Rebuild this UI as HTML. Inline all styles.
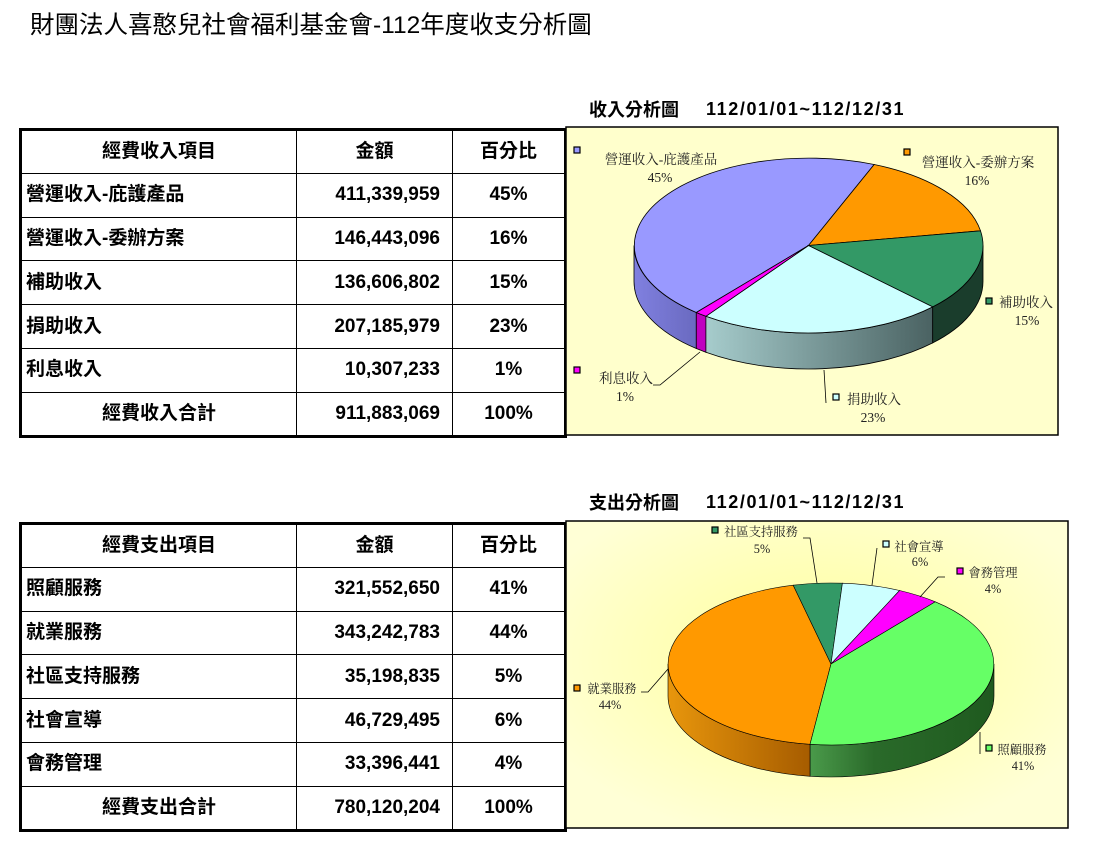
<!DOCTYPE html>
<html><head><meta charset="utf-8">
<style>
body{margin:0;background:#fff;width:1113px;height:853px;position:relative;overflow:hidden;font-family:"Liberation Sans","Noto Sans CJK TC",sans-serif;}
.title{position:absolute;left:30px;top:6px;font-size:24.5px;color:#000;}
.ct{position:absolute;font-size:18px;font-weight:bold;}
table{position:absolute;border-collapse:collapse;border:3px solid #000;font-weight:bold;font-size:19px;}
td{border:1.5px solid #000;height:43.8px;padding:0 4px;box-sizing:border-box;line-height:20px}
td.a{width:276px}td.b{width:156px;text-align:right;padding-right:12px}td.c{width:113px;text-align:center}
tr.h td{text-align:center;padding-right:4px}
tr.t td.a{text-align:center}
svg{position:absolute;left:0;top:0}
</style></head><body>
<div class="title">財團法人喜憨兒社會福利基金會-112年度收支分析圖</div>
<div class="ct" style="left:589px;top:96px">收入分析圖</div>
<div class="ct" style="left:706px;top:99px;letter-spacing:1.6px">112/01/01~112/12/31</div>
<div class="ct" style="left:589px;top:489px">支出分析圖</div>
<div class="ct" style="left:706px;top:492px;letter-spacing:1.6px">112/01/01~112/12/31</div>

<table style="left:19px;top:128px;width:548px">
<tr class="h"><td class="a">經費收入項目</td><td class="b" style="text-align:center">金額</td><td class="c">百分比</td></tr>
<tr><td class="a">營運收入-庇護產品</td><td class="b">411,339,959</td><td class="c">45%</td></tr>
<tr><td class="a">營運收入-委辦方案</td><td class="b">146,443,096</td><td class="c">16%</td></tr>
<tr><td class="a">補助收入</td><td class="b">136,606,802</td><td class="c">15%</td></tr>
<tr><td class="a">捐助收入</td><td class="b">207,185,979</td><td class="c">23%</td></tr>
<tr><td class="a">利息收入</td><td class="b">10,307,233</td><td class="c">1%</td></tr>
<tr class="t"><td class="a">經費收入合計</td><td class="b">911,883,069</td><td class="c">100%</td></tr>
</table>

<table style="left:19px;top:522px;width:548px">
<tr class="h"><td class="a">經費支出項目</td><td class="b" style="text-align:center">金額</td><td class="c">百分比</td></tr>
<tr><td class="a">照顧服務</td><td class="b">321,552,650</td><td class="c">41%</td></tr>
<tr><td class="a">就業服務</td><td class="b">343,242,783</td><td class="c">44%</td></tr>
<tr><td class="a">社區支持服務</td><td class="b">35,198,835</td><td class="c">5%</td></tr>
<tr><td class="a">社會宣導</td><td class="b">46,729,495</td><td class="c">6%</td></tr>
<tr><td class="a">會務管理</td><td class="b">33,396,441</td><td class="c">4%</td></tr>
<tr class="t"><td class="a">經費支出合計</td><td class="b">780,120,204</td><td class="c">100%</td></tr>
</table>

<svg width="1113" height="853" viewBox="0 0 1113 853" style="font-family:'Liberation Serif','Noto Serif CJK SC',serif">
<defs>
<linearGradient id="cs" x1="0" x2="1"><stop offset="0" stop-color="#a6cccc"/><stop offset="1" stop-color="#4a6262"/></linearGradient>
<linearGradient id="ps" x1="0" x2="1"><stop offset="0" stop-color="#8080e0"/><stop offset="1" stop-color="#6a6ac0"/></linearGradient>
<linearGradient id="gs" x1="0" x2="1"><stop offset="0" stop-color="#4a9a4a"/><stop offset="0.35" stop-color="#2a6a2a"/><stop offset="1" stop-color="#1f5a1f"/></linearGradient>
<linearGradient id="os" x1="0" x2="1"><stop offset="0" stop-color="#e8960c"/><stop offset="1" stop-color="#a65c00"/></linearGradient>
<radialGradient id="bg2" cx="0.5" cy="0.45" r="0.6"><stop offset="0" stop-color="#ffff99"/><stop offset="1" stop-color="#ffffd6"/></radialGradient>
</defs>
<rect x="566" y="127" width="492" height="308" fill="#ffffcc" stroke="#000" stroke-width="1.5"/>
<g stroke="#000" stroke-width="0.8">
<path d="M696.3,312.5 A174.5,87.5 0 0 1 634,245.5 L634,281.5 A174.5,87.5 0 0 0 696.3,348.5 Z" fill="url(#ps)"/>
<path d="M705.9,316.3 L696.3,312.5 L696.3,348.5 L705.9,352.3 Z" fill="#c000c0"/>
<path d="M932.7,306.9 A174.5,87.5 0 0 1 705.9,316.3 L705.9,352.3 A174.5,87.5 0 0 0 932.7,342.9 Z" fill="url(#cs)"/>
<path d="M983,245.5 A174.5,87.5 0 0 1 932.7,306.9 L932.7,342.9 A174.5,87.5 0 0 0 983,281.5 Z" fill="#1a3d2c"/>
<path d="M808.5,245.5 L696.3,312.5 A174.5,87.5 0 0 1 874.2,164.5 Z" fill="#9999ff"/>
<path d="M808.5,245.5 L874.2,164.5 A174.5,87.5 0 0 1 980.5,230.8 Z" fill="#ff9900"/>
<path d="M808.5,245.5 L980.5,230.8 A174.5,87.5 0 0 1 932.7,306.9 Z" fill="#339966"/>
<path d="M808.5,245.5 L932.7,306.9 A174.5,87.5 0 0 1 705.9,316.3 Z" fill="#ccffff"/>
<path d="M808.5,245.5 L705.9,316.3 A174.5,87.5 0 0 1 696.3,312.5 Z" fill="#ff00ff"/>
<polyline points="653,385 660,385 700,352" fill="none"/>
<line x1="824" y1="370" x2="826" y2="403"/>
</g>
<g stroke="#000" stroke-width="1.2">
<rect x="574" y="147" width="6" height="6" fill="#9999ff"/>
<rect x="904" y="149" width="6" height="6" fill="#ff9900"/>
<rect x="986" y="298" width="6" height="6" fill="#339966"/>
<rect x="574" y="367" width="6" height="6" fill="#ff00ff"/>
<rect x="833" y="394" width="6" height="6" fill="#ccffff"/>
</g>
<g font-size="13.5" fill="#222" text-anchor="middle">
<text x="661" y="164">營運收入-庇護產品</text><text x="660" y="182">45%</text>
<text x="978" y="167">營運收入-委辦方案</text><text x="977" y="185">16%</text>
<text x="1026" y="307">補助收入</text><text x="1027" y="325">15%</text>
<text x="626" y="383">利息收入</text><text x="625" y="401">1%</text>
<text x="874" y="404">捐助收入</text><text x="873" y="422">23%</text>
</g>
<rect x="566" y="521" width="502" height="307" fill="url(#bg2)" stroke="#000" stroke-width="1.5"/>
<g stroke="#000" stroke-width="0.6">
<path d="M994,664 A163,81 0 0 1 810,744.3 L810,776.3 A163,81 0 0 0 994,696 Z" fill="url(#gs)"/>
<path d="M810,744.3 A163,81 0 0 1 668,664 L668,696 A163,81 0 0 0 810,776.3 Z" fill="url(#os)"/>
<path d="M831,664 L810,744.3 A163,81 0 0 1 793.2,585.2 Z" fill="#ff9900"/>
<path d="M831,664 L793.2,585.2 A163,81 0 0 1 842.4,583.2 Z" fill="#339966"/>
<path d="M831,664 L842.4,583.2 A163,81 0 0 1 899.6,590.5 Z" fill="#ccffff"/>
<path d="M831,664 L899.6,590.5 A163,81 0 0 1 935.3,601.8 Z" fill="#ff00ff"/>
<path d="M831,664 L935.3,601.8 A163,81 0 0 1 810,744.3 Z" fill="#66ff66"/>
</g>
<g stroke="#000" stroke-width="0.8" fill="none">
<polyline points="803,538 810,538 817,583"/>
<polyline points="877,548 872,585"/>
<polyline points="945,577 938,577 920,597"/>
<polyline points="641,692 648,692 668,669"/>
<line x1="980" y1="732" x2="980" y2="754"/>
</g>
<g stroke="#000" stroke-width="1.2">
<rect x="712" y="527" width="6" height="6" fill="#339966"/>
<rect x="883" y="541" width="6" height="6" fill="#ccffff"/>
<rect x="957" y="568" width="6" height="6" fill="#ff00ff"/>
<rect x="574" y="685" width="6" height="6" fill="#ff9900"/>
<rect x="986" y="745" width="6" height="6" fill="#66ff66"/>
</g>
<g font-size="12.3" fill="#222" text-anchor="middle">
<text x="761" y="536">社區支持服務</text><text x="762" y="553">5%</text>
<text x="919" y="551">社會宣導</text><text x="920" y="566">6%</text>
<text x="993" y="577">會務管理</text><text x="993" y="593">4%</text>
<text x="612" y="693">就業服務</text><text x="610" y="709">44%</text>
<text x="1022" y="754">照顧服務</text><text x="1023" y="770">41%</text>
</g>
</svg>
</body></html>
